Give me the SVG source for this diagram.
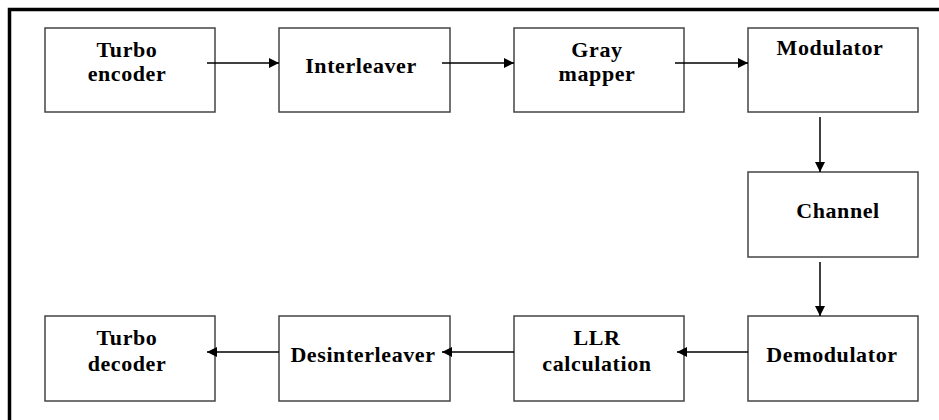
<svg xmlns="http://www.w3.org/2000/svg" width="939" height="420" viewBox="0 0 939 420">
<defs>
<style>
.box{fill:#fff;stroke:#444;stroke-width:1.5}
.t{font-family:"Liberation Serif","Times New Roman",serif;font-weight:bold;font-size:22px;letter-spacing:0.6px;fill:#000;text-anchor:middle}
.c{stroke:#000;stroke-width:1.5;fill:none;marker-end:url(#ah)}
</style>
<marker id="ah" viewBox="0 0 10 10" refX="10" refY="5" markerWidth="11" markerHeight="10" markerUnits="userSpaceOnUse" orient="auto">
<path d="M0,0 L10,5 L0,10 z" fill="#000"/>
</marker>
</defs>
<rect width="939" height="420" fill="#fff"/>
<path d="M9.5,420 V9.5 H939" fill="none" stroke="#000" stroke-width="3.5"/>
<g id="turbo-encoder"><rect class="box" x="45" y="28" width="170" height="84"/><text class="t" x="127" y="57">Turbo</text><text class="t" x="127" y="81">encoder</text></g>
<g id="interleaver"><rect class="box" x="279" y="28" width="171" height="84"/><text class="t" x="361" y="73">Interleaver</text></g>
<g id="gray-mapper"><rect class="box" x="514" y="28" width="170" height="84"/><text class="t" x="597" y="57">Gray</text><text class="t" x="597" y="81">mapper</text></g>
<g id="modulator"><rect class="box" x="748" y="28" width="170" height="84"/><text class="t" x="830" y="55">Modulator</text></g>
<g id="channel"><rect class="box" x="748" y="172" width="170" height="85"/><text class="t" x="838" y="218">Channel</text></g>
<g id="demodulator"><rect class="box" x="748" y="316" width="170" height="85"/><text class="t" x="832" y="362">Demodulator</text></g>
<g id="llr"><rect class="box" x="514" y="316" width="170" height="85"/><text class="t" x="597" y="345">LLR</text><text class="t" x="597" y="371">calculation</text></g>
<g id="desinterleaver"><rect class="box" x="279" y="316" width="171" height="85"/><text class="t" x="363" y="362">Desinterleaver</text></g>
<g id="turbo-decoder"><rect class="box" x="45" y="316" width="170" height="85"/><text class="t" x="127" y="345">Turbo</text><text class="t" x="127" y="371">decoder</text></g>
<g id="connectors">
<line class="c" x1="207" y1="63" x2="279" y2="63"/>
<line class="c" x1="442" y1="63" x2="514" y2="63"/>
<line class="c" x1="675" y1="63" x2="748" y2="63"/>
<line class="c" x1="820" y1="117" x2="820" y2="172"/>
<line class="c" x1="820" y1="262" x2="820" y2="316"/>
<line class="c" x1="748" y1="352" x2="677" y2="352"/>
<line class="c" x1="514" y1="352" x2="442" y2="352"/>
<line class="c" x1="279" y1="352" x2="207" y2="352"/>
</g>
</svg>
